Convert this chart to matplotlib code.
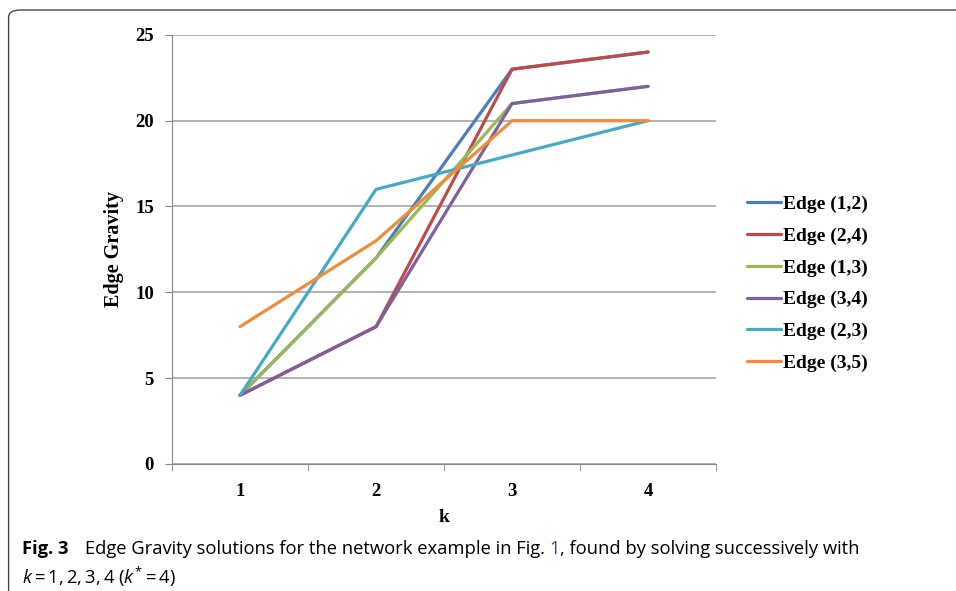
import matplotlib
matplotlib.use("Agg")
import matplotlib.pyplot as plt
from matplotlib.patches import FancyBboxPatch

k = [1, 2, 3, 4]
edge_12 = [4, 12, 23, 24]
edge_24 = [4, 8, 23, 24]
edge_13 = [4, 12, 21, 22]
edge_34 = [4, 8, 21, 22]
edge_23 = [4, 16, 18, 20]
edge_35 = [8, 13, 20, 20]

series = [
    ("Edge (1,2)", edge_12, "#4A7EBB"),
    ("Edge (2,4)", edge_24, "#BE4B48"),
    ("Edge (1,3)", edge_13, "#98B954"),
    ("Edge (3,4)", edge_34, "#7D60A0"),
    ("Edge (2,3)", edge_23, "#46AAC5"),
    ("Edge (3,5)", edge_35, "#F08C3C"),
]

serif = "Liberation Serif"
cap = "Open Sans"
plt.rcParams["mathtext.fontset"] = "custom"
plt.rcParams["mathtext.rm"] = "Open Sans"
plt.rcParams["mathtext.it"] = "Open Sans:italic"

fig = plt.figure(figsize=(9.56, 5.91), dpi=100)
ax = fig.add_axes([0.18, 0.215, 0.569, 0.726])

for name, vals, col in series:
    ax.plot(k, vals, color=col, lw=2.3, label=name, solid_capstyle="round")

ax.set_xlim(0.5, 4.5)
ax.set_ylim(0, 25)
ax.set_yticks([0, 5, 10, 15, 20, 25])
ax.set_xticks(k)
ax.set_xticks([0.5, 1.5, 2.5, 3.5, 4.5], minor=True)
ax.tick_params(axis="x", which="major", length=0, pad=14)
ax.tick_params(axis="x", which="minor", length=5, color="#888888", direction="out")
ax.tick_params(axis="y", length=5, color="#888888", direction="out", pad=8)
for lab in ax.get_xticklabels() + ax.get_yticklabels():
    lab.set_fontfamily(serif)
    lab.set_fontweight("bold")
    lab.set_fontsize(13.5)

ax.grid(axis="y", color="#A6A6A6", lw=1.2)
ax.set_axisbelow(True)
for s in ["top", "right"]:
    ax.spines[s].set_visible(False)
ax.spines["left"].set_color("#888888")
ax.spines["bottom"].set_color("#888888")

ax.set_ylabel("Edge Gravity", fontfamily=serif, fontweight="bold", fontsize=14.5, labelpad=8)
ax.set_xlabel("k", fontfamily=serif, fontweight="bold", fontsize=14, labelpad=6)

leg = ax.legend(loc="center left", bbox_to_anchor=(1.025, 0.42), frameon=False,
                prop={"family": serif, "weight": "bold", "size": 14},
                handlelength=1.75, handletextpad=0.1, labelspacing=0.73)

# frame around the figure
frame = FancyBboxPatch((0.009, -0.05), 1.05, 1.033, transform=fig.transFigure,
                       boxstyle="round,pad=0,rounding_size=0.012",
                       fill=False, ec="#444444", lw=1.0)
fig.patches.append(frame)

# caption
fs = 13.2
t1 = fig.text(0.023, 0.063, "Fig. 3", fontfamily=cap, fontweight="bold", fontsize=fs)
t2 = fig.text(0.0885, 0.063, "Edge Gravity solutions for the network example in Fig. ",
              fontfamily=cap, fontsize=fs)
t3 = fig.text(0, 0, "1", fontfamily=cap, fontsize=fs, color="#2A3FBF")
t4 = fig.text(0, 0, ", found by solving successively with", fontfamily=cap, fontsize=fs)
fig.canvas.draw()
r = fig.canvas.get_renderer()
inv = fig.transFigure.inverted()
x = inv.transform((t2.get_window_extent(r).x1, 0))[0]
t3.set_position((x, 0.063))
x = inv.transform((t3.get_window_extent(r).x1, 0))[0]
t4.set_position((x, 0.063))
fig.text(0.023, 0.013, r"$k=1,2,3,4$ ($k^{*}=4$)", fontfamily=cap, fontsize=fs)

fig.savefig("out.png", dpi=100)
